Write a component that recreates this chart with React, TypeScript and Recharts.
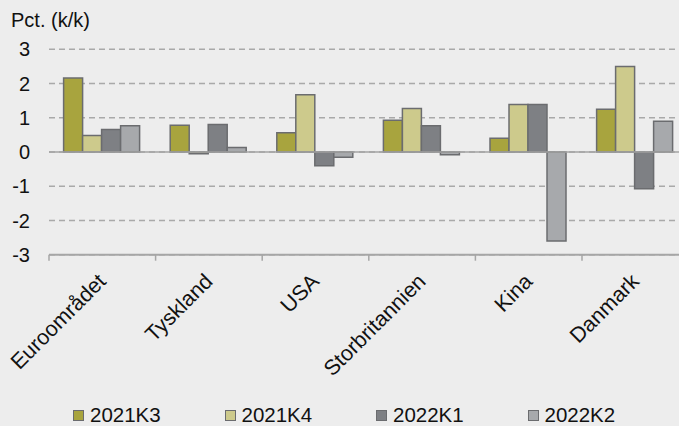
import React from 'react';
import { BarChart, Bar, XAxis, YAxis, CartesianGrid, ReferenceLine, Legend } from 'recharts';

const categories = ['Euroområdet', 'Tyskland', 'USA', 'Storbritannien', 'Kina', 'Danmark'];
const s2021K3 = [2.16, 0.78, 0.56, 0.93, 0.40, 1.25];
const s2021K4 = [0.48, -0.05, 1.67, 1.27, 1.39, 2.50];
const s2022K1 = [0.66, 0.80, -0.40, 0.77, 1.39, -1.07];
const s2022K2 = [0.77, 0.13, -0.15, -0.08, -2.60, 0.90];
const seriesNames = ['2021K3', '2021K4', '2022K1', '2022K2'];
const yTicks = [-3, -2, -1, 0, 1, 2, 3];

const colors = ['#a8a43e', '#cdca8c', '#7e8084', '#a7a9ac'];
const STROKE = '#6b6c6f';
const BG = '#ededed';
const FONT = 'Arial, "Liberation Sans", Helvetica, sans-serif';

const data = categories.map((c, i) => ({
  name: c,
  [seriesNames[0]]: s2021K3[i],
  [seriesNames[1]]: s2021K4[i],
  [seriesNames[2]]: s2022K1[i],
  [seriesNames[3]]: s2022K2[i],
}));

const CHART_W = 700;
const CHART_H = 426;
const Y_W = 49;
const M_RIGHT = 11.4;
const PLOT_W = CHART_W - Y_W - M_RIGHT;
const BAND_HALF = PLOT_W / categories.length / 2;

const XTick = (props: any) => {
  const { x, y, payload } = props;
  const half = BAND_HALF;
  const ax = x + 5;
  const ay = y + 20;
  return (
    <g>
      <line x1={x - half} x2={x - half} y1={y - 8} y2={y - 2} stroke="#a6a6a6" strokeWidth={1.5} />
      <text
        x={ax}
        y={ay}
        textAnchor="end"
        transform={`rotate(-45, ${ax}, ${ay})`}
        fontSize={21.5}
        fontFamily={FONT}
        fill="#111"
      >
        {payload.value}
      </text>
    </g>
  );
};

const LegendContent = () => (
  <div style={{ display: 'flex', paddingLeft: 73, fontFamily: FONT, fontSize: 20.5, lineHeight: '20px', color: '#111' }}>
    {seriesNames.map((n, i) => (
      <div key={n} style={{ display: 'flex', alignItems: 'center', width: 154.5 }}>
        <span
          style={{
            display: 'inline-block',
            width: 9,
            height: 9,
            background: colors[i],
            border: `1px solid ${STROKE}`,
            marginRight: 6,
          }}
        />
        <span>{n}</span>
      </div>
    ))}
  </div>
);

export default function App() {
  return (
    <div
      style={{
        position: 'absolute',
        left: 0,
        top: 0,
        width: 679,
        height: 426,
        overflow: 'hidden',
        background: BG,
      }}
    >
      <div
        style={{
          position: 'absolute',
          left: 11,
          top: 10,
          fontFamily: FONT,
          fontSize: 20,
          lineHeight: '20px',
          color: '#111',
          zIndex: 2,
        }}
      >
        Pct. (k/k)
      </div>
      <BarChart
        width={CHART_W}
        height={CHART_H}
        data={data}
        margin={{ top: 49.3, right: M_RIGHT, left: 0, bottom: CHART_H - 254.7 - 30 }}
        barCategoryGap="13.7%"
        barGap={0}
      >
        <CartesianGrid vertical={false} stroke="#a9a9a9" strokeDasharray="6 4" strokeWidth={1.5} />
        <XAxis
          dataKey="name"
          height={30}
          tickLine={false}
          tickSize={6}
          tickMargin={2}
          axisLine={{ stroke: '#a6a6a6', strokeWidth: 2 }}
          tick={<XTick />}
          interval={0}
        />
        <YAxis
          width={Y_W}
          domain={[-3, 3]}
          ticks={yTicks}
          allowDataOverflow
          axisLine={false}
          tickLine={false}
          tickSize={6}
          tickMargin={13}
          tick={{ fontSize: 20, fontFamily: FONT, fill: '#111' }}
        />
        <ReferenceLine y={0} stroke="#a3a3a3" strokeWidth={1.5} />
        {seriesNames.map((n, i) => (
          <Bar key={n} dataKey={n} fill={colors[i]} stroke={STROKE} strokeWidth={1.5} isAnimationActive={false} />
        ))}
        <Legend
          layout="horizontal"
          verticalAlign="middle"
          align="center"
          wrapperStyle={{ top: 405, left: 0, width: 679 }}
          content={<LegendContent />}
        />
      </BarChart>
    </div>
  );
}
